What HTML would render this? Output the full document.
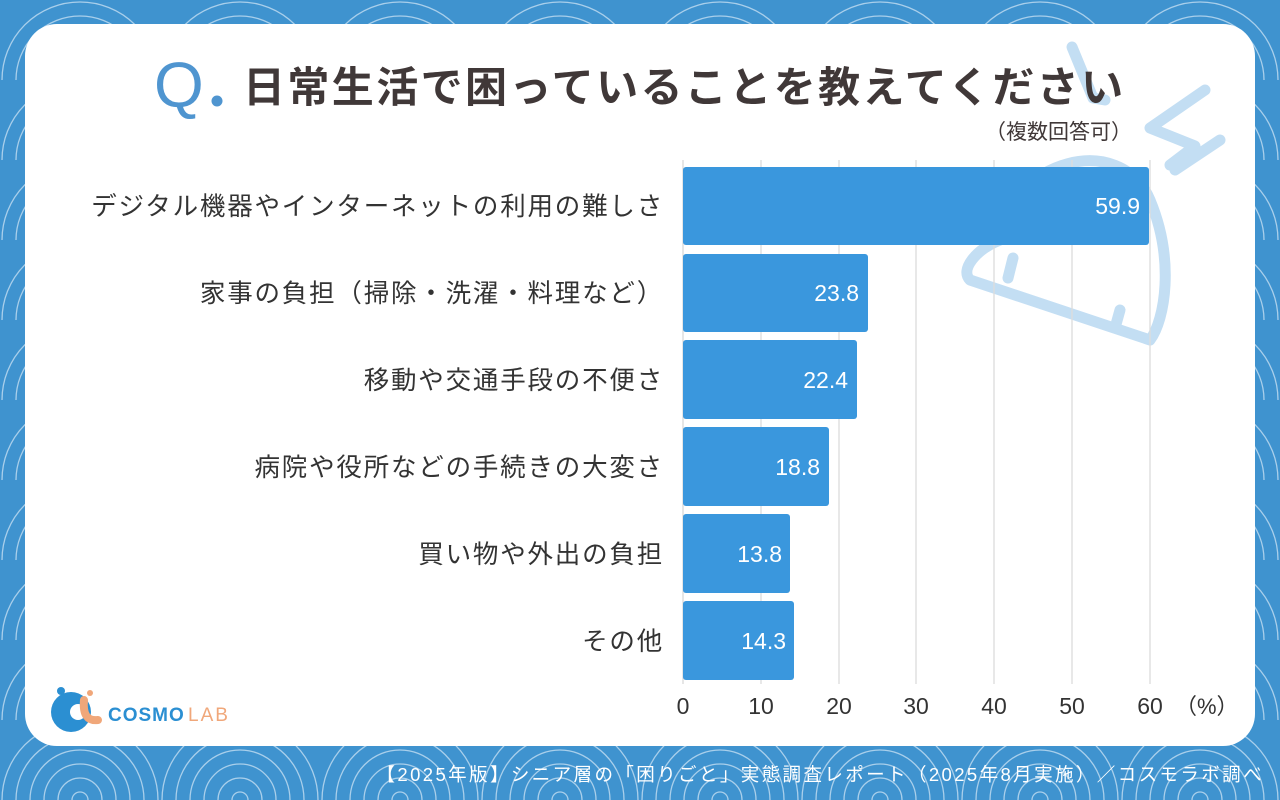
<!DOCTYPE html>
<html><head><meta charset="utf-8"><style>
body{margin:0;width:1280px;height:800px;overflow:hidden;font-family:"Liberation Sans","Noto Sans CJK JP",sans-serif;}
</style></head><body>
<svg width="1280" height="800" style="position:absolute;left:0;top:0">
<defs>
<pattern id="sg" width="160" height="80" patternUnits="userSpaceOnUse">
<rect width="160" height="80" fill="#3f93cf"/>
<g fill="none" stroke="#a9cfeb" stroke-width="1.3">
<circle cx="80" cy="80" r="78" fill="#3f93cf"/><circle cx="80" cy="80" r="64"/><circle cx="80" cy="80" r="50"/><circle cx="80" cy="80" r="36"/><circle cx="80" cy="80" r="22"/><circle cx="80" cy="80" r="8"/>
</g>
</pattern>
</defs>
<rect width="1280" height="800" fill="url(#sg)"/>
<rect x="25" y="24" width="1230" height="722" rx="32" fill="#fff"/>
<g fill="none" stroke="#c3def3" stroke-width="11" stroke-linecap="round" stroke-linejoin="round">
<path d="M1072 47 L1093 98 L1105 100"/>
<path d="M1205 90 L1150 128 L1195 146 L1170 165"/>
<path d="M1220 140 L1175 170"/>
<path d="M1000 240 C1010 160 1120 130 1150 200 C1175 260 1165 320 1150 340 L970 280 C960 270 975 250 1000 240Z"/>
<path d="M1008 278 L1013 258"/><path d="M1115 328 L1120 310"/>
</g>
<g stroke="#dcdcdc" stroke-width="1.3">
<line x1="761" y1="160" x2="761" y2="684"/><line x1="839" y1="160" x2="839" y2="684"/><line x1="916" y1="160" x2="916" y2="684"/><line x1="994" y1="160" x2="994" y2="684"/><line x1="1072" y1="160" x2="1072" y2="684"/><line x1="1150" y1="160" x2="1150" y2="684"/>
</g>
<line x1="683" y1="160" x2="683" y2="684" stroke="#ccc"/>
<g fill="#3a97dd">
<rect x="683" y="167" width="466" height="78" rx="3"/>
<rect x="683" y="254" width="185" height="78" rx="3"/>
<rect x="683" y="340" width="174" height="79" rx="3"/>
<rect x="683" y="427" width="146" height="79" rx="3"/>
<rect x="683" y="514" width="107" height="79" rx="3"/>
<rect x="683" y="601" width="111" height="79" rx="3"/>
</g>
<g fill="#fff" font-size="23" text-anchor="end" font-family="Liberation Sans,sans-serif">
<text x="1140" y="214">59.9</text><text x="859" y="301">23.8</text><text x="848" y="388">22.4</text><text x="820" y="475">18.8</text><text x="782" y="562">13.8</text><text x="786" y="649">14.3</text>
</g>
<g fill="#333" font-size="23" text-anchor="middle" font-family="Liberation Sans,sans-serif">
<text x="683" y="714">0</text><text x="761" y="714">10</text><text x="839" y="714">20</text><text x="916" y="714">30</text><text x="994" y="714">40</text><text x="1072" y="714">50</text><text x="1150" y="714">60</text>
</g>
<text x="1175" y="714" fill="#333" font-size="22" font-family="Liberation Sans,Noto Sans CJK JP,sans-serif">（%）</text>
<g fill="#333" font-size="25.5" letter-spacing="1.8" text-anchor="end" font-family="Liberation Sans,Noto Sans CJK JP,sans-serif">
<text x="664" y="215">デジタル機器やインターネットの利用の難しさ</text>
<text x="664" y="302">家事の負担（掃除・洗濯・料理など）</text>
<text x="664" y="389">移動や交通手段の不便さ</text>
<text x="664" y="476">病院や役所などの手続きの大変さ</text>
<text x="664" y="563">買い物や外出の負担</text>
<text x="664" y="650">その他</text>
</g>
<text x="154" y="107" fill="#4f95d0" font-size="64" font-family="Liberation Sans,sans-serif">Q</text>
<circle cx="217" cy="101" r="5.5" fill="#4f95d0"/>
<text x="243" y="102" fill="#403838" font-size="42" letter-spacing="2.4" font-weight="bold" font-family="Liberation Sans,Noto Sans CJK JP,sans-serif">日常生活で困っていることを教えてください</text>
<text x="1132" y="139" fill="#403838" font-size="21" text-anchor="end" font-family="Liberation Sans,Noto Sans CJK JP,sans-serif">（複数回答可）</text>
<circle cx="71" cy="712" r="20" fill="#2b8fd2"/><circle cx="78" cy="712" r="8" fill="#fff"/><circle cx="61" cy="691" r="4" fill="#2b8fd2"/>
<path d="M84 700 Q82 722 98 720" stroke="#f0a77a" stroke-width="8" fill="none" stroke-linecap="round"/><circle cx="90" cy="693" r="3" fill="#f0a77a"/>
<text x="108" y="721" fill="#2b8fd2" font-size="19" letter-spacing="1" font-weight="bold" font-family="Liberation Sans,sans-serif">COSMO</text>
<text x="188" y="721" fill="#f0a77a" font-size="19" letter-spacing="2" font-family="Liberation Sans,sans-serif">LAB</text>
<text x="1264" y="781" fill="#fff" font-size="18.5" letter-spacing="2.4" text-anchor="end" font-family="Liberation Sans,Noto Sans CJK JP,sans-serif">【2025年版】シニア層の「困りごと」実態調査レポート（2025年8月実施）／コスモラボ調べ</text>
</svg>
</body></html>
